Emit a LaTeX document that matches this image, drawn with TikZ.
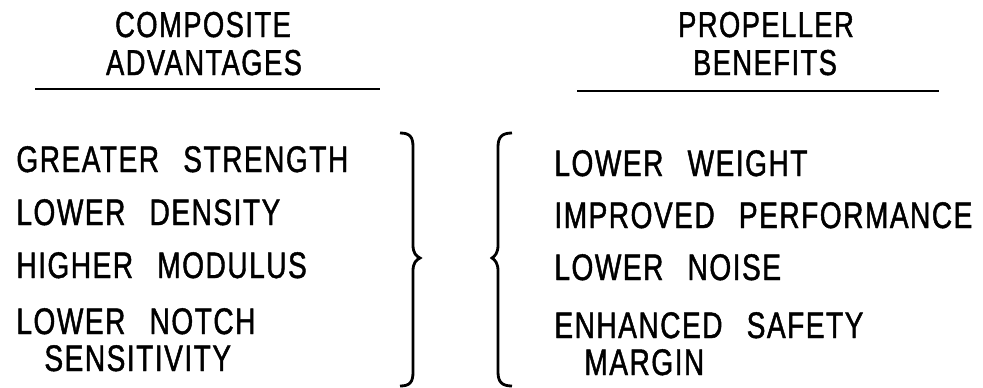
\documentclass[tikz,border=0pt]{standalone}
\usepackage{fontspec}
\setmainfont{Liberation Sans}[FakeStretch=0.76, LetterSpace=4, WordSpace=2.6, FakeBold=1.2]
\begin{document}
\begin{tikzpicture}[x=1pt, y=-1pt, line width=2.8pt,
    item/.style = {anchor=base west, inner sep=0pt, font=\fontsize{37}{40}\selectfont},
    head/.style = {anchor=base, inner sep=0pt, font=\fontsize{36}{40}\selectfont}]
            \useasboundingbox (0,0) rectangle (983,388);

            % headings
            \node[head] (comp) at (203,37) {COMPOSITE};
            \node[head] (adv) at (204,75) {ADVANTAGES};
            \node[head] (prop) at (766,37) {PROPELLER};
            \node[head] (ben) at (765,75) {BENEFITS};
            \coordinate (l1) at (35,89);
            \coordinate (l2) at (380,89);
            \coordinate (r1) at (577,91);
            \coordinate (r2) at (939,91);
            \draw (l1) -- (l2);
            \draw (r1) -- (r2);

            % composite side
            \node[item] (str) at (15,172) {GREATER STRENGTH};
            \node[item] (den) at (15,225) {LOWER DENSITY};
            \node[item] (mod) at (15,278) {HIGHER MODULUS};
            \node[item] (notch) at (15,334) {LOWER NOTCH};
            \node[item] (sens) at (43,371) {SENSITIVITY};

            % propeller side
            \node[item] (wt) at (553,176) {LOWER WEIGHT};
            \node[item] (perf) at (553,228) {IMPROVED PERFORMANCE};
            \node[item] (noise) at (553,280) {LOWER NOISE};
            \node[item] (safe) at (553,338) {ENHANCED SAFETY};
            \node[item] (marg) at (583,375) {MARGIN};

            % braces
            \draw (400,133) .. controls (410,133) and (413,137) .. (413,147) -- (413,245)
                .. controls (413,253) and (416,256) .. (420,258)
                .. controls (416,260) and (413,263) .. (413,271) -- (413,372)
                .. controls (413,382) and (410,386) .. (400,386);
            \draw (512,133) .. controls (502,133) and (498,137) .. (498,147) -- (498,245)
                .. controls (498,253) and (495,256) .. (492,258)
                .. controls (495,260) and (498,263) .. (498,271) -- (498,372)
                .. controls (498,382) and (502,386) .. (512,386);
            \end{tikzpicture}
\end{document}
